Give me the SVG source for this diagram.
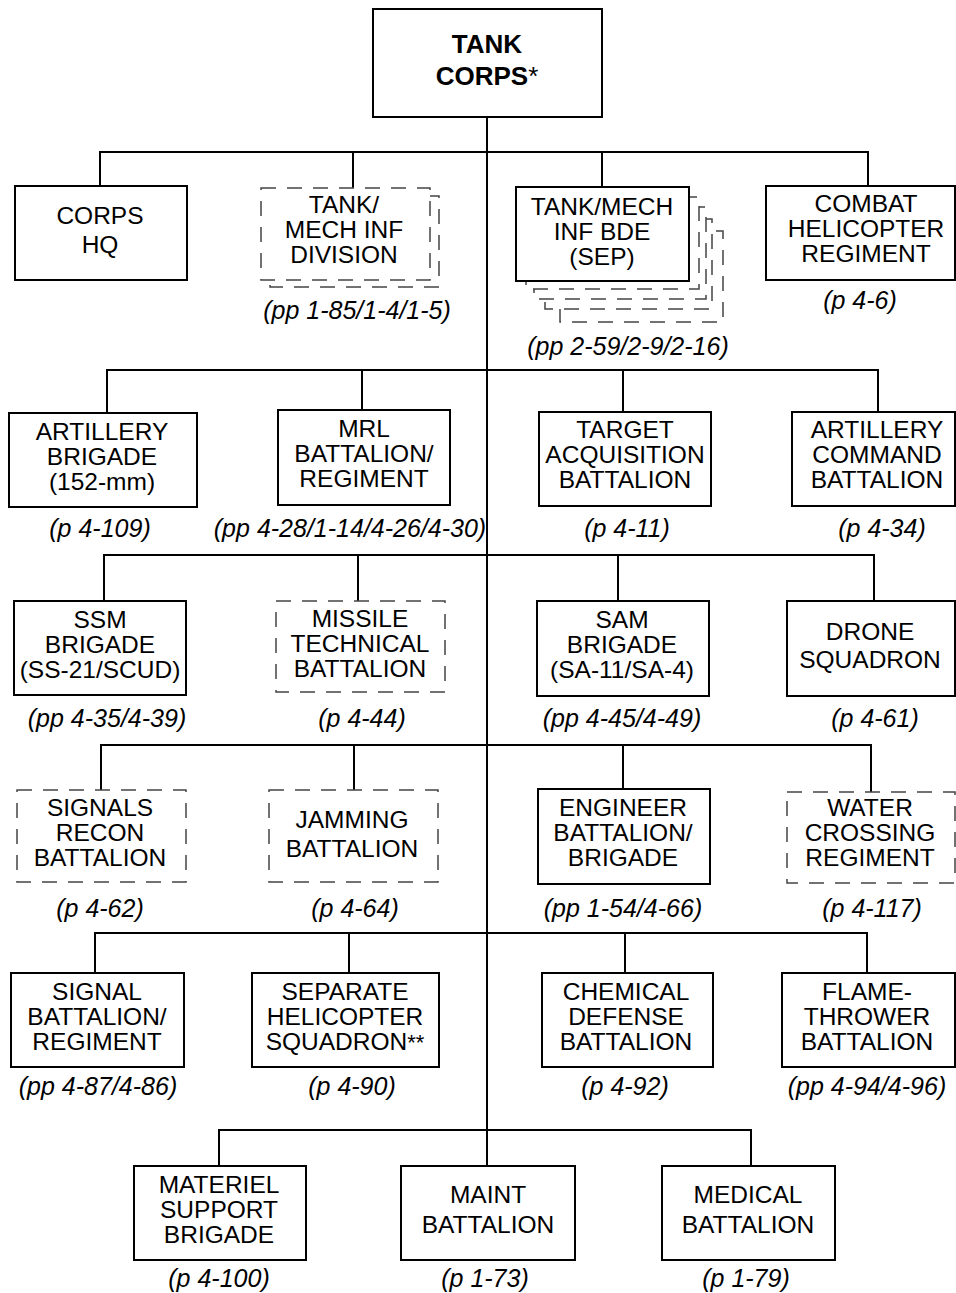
<svg xmlns="http://www.w3.org/2000/svg" width="956" height="1293" viewBox="0 0 956 1293">
<style>
.box{fill:#fff;stroke:#000;stroke-width:2}
.dash{fill:#fff;stroke:#444;stroke-width:1.5;stroke-dasharray:15 11}
.ln{fill:none;stroke:#000;stroke-width:2}
text{font-family:"Liberation Sans",Arial,sans-serif;font-size:24.5px;fill:#000;text-anchor:middle}
.lbl{font-style:italic;font-size:25px}
.ttl{font-weight:bold;font-size:26px}
.ast{font-weight:normal;font-size:26px}
.ast2{font-size:22px}
</style>
<rect width="956" height="1293" fill="#fff"/>
<g id="connectors">
<path class="ln" d="M487 117V1166"/>
<path class="ln" d="M100 186V152H868V186M353 152V188M602 152V187"/>
<path class="ln" d="M107 413V370H878V412M362 370V410M623 370V412"/>
<path class="ln" d="M104 601V555H874V601M358 555V601M618 555V601"/>
<path class="ln" d="M101 790V745H871V792M354 745V790M623 745V789"/>
<path class="ln" d="M95 973V933H867V973M349 933V973M625 933V973"/>
<path class="ln" d="M219 1166V1130H751V1166"/>
</g>
<g id="tank-corps">
<rect class="box" x="373" y="9" width="229" height="108"/>
<text class="ttl" x="487" y="53">TANK</text>
<text class="ttl" x="487" y="85">CORPS<tspan class="ast">*</tspan></text>
</g>
<g id="corps-hq">
<rect class="box" x="15" y="186" width="172" height="94"/>
<text x="100" y="224">CORPS</text>
<text x="100" y="253">HQ</text>
</g>
<g id="tank-mech-div">
<rect class="dash" x="270" y="196" width="169" height="91"/>
<rect class="dash" x="261" y="188" width="169" height="92"/>
<text x="344" y="213">TANK/</text>
<text x="344" y="238">MECH INF</text>
<text x="344" y="263">DIVISION</text>
<text class="lbl" x="357" y="319">(pp 1-85/1-4/1-5)</text>
</g>
<g id="tank-mech-bde">
<rect class="dash" x="560" y="231" width="163" height="91"/>
<rect class="dash" x="545" y="219" width="167" height="90"/>
<rect class="dash" x="534" y="207" width="172" height="92"/>
<rect class="dash" x="526" y="197" width="173" height="92"/>
<rect class="box" x="516" y="187" width="173" height="94"/>
<text x="602" y="215">TANK/MECH</text>
<text x="602" y="240">INF BDE</text>
<text x="602" y="265">(SEP)</text>
<text class="lbl" x="628" y="355">(pp 2-59/2-9/2-16)</text>
</g>
<g id="combat-heli">
<rect class="box" x="766" y="186" width="189" height="94"/>
<text x="866" y="212">COMBAT</text>
<text x="866" y="237">HELICOPTER</text>
<text x="866" y="262">REGIMENT</text>
<text class="lbl" x="860" y="309">(p 4-6)</text>
</g>
<g id="arty-bde">
<rect class="box" x="9" y="413" width="188" height="94"/>
<text x="102" y="440">ARTILLERY</text>
<text x="102" y="465">BRIGADE</text>
<text x="102" y="490">(152-mm)</text>
<text class="lbl" x="100" y="537">(p 4-109)</text>
</g>
<g id="mrl">
<rect class="box" x="278" y="410" width="172" height="95"/>
<text x="364" y="437">MRL</text>
<text x="364" y="462">BATTALION/</text>
<text x="364" y="487">REGIMENT</text>
<text class="lbl" x="350" y="537">(pp 4-28/1-14/4-26/4-30)</text>
</g>
<g id="target-acq">
<rect class="box" x="539" y="412" width="172" height="94"/>
<text x="625" y="438">TARGET</text>
<text x="625" y="463">ACQUISITION</text>
<text x="625" y="488">BATTALION</text>
<text class="lbl" x="627" y="537">(p 4-11)</text>
</g>
<g id="arty-cmd">
<rect class="box" x="792" y="412" width="163" height="94"/>
<text x="877" y="438">ARTILLERY</text>
<text x="877" y="463">COMMAND</text>
<text x="877" y="488">BATTALION</text>
<text class="lbl" x="882" y="537">(p 4-34)</text>
</g>
<g id="ssm">
<rect class="box" x="14" y="601" width="172" height="94"/>
<text x="100" y="628">SSM</text>
<text x="100" y="653">BRIGADE</text>
<text x="100" y="678">(SS-21/SCUD)</text>
<text class="lbl" x="107" y="727">(pp 4-35/4-39)</text>
</g>
<g id="missile-tech">
<rect class="dash" x="276" y="601" width="169" height="91"/>
<text x="360" y="627">MISSILE</text>
<text x="360" y="652">TECHNICAL</text>
<text x="360" y="677">BATTALION</text>
<text class="lbl" x="362" y="727">(p 4-44)</text>
</g>
<g id="sam">
<rect class="box" x="537" y="601" width="172" height="95"/>
<text x="622" y="628">SAM</text>
<text x="622" y="653">BRIGADE</text>
<text x="622" y="678">(SA-11/SA-4)</text>
<text class="lbl" x="622" y="727">(pp 4-45/4-49)</text>
</g>
<g id="drone">
<rect class="box" x="787" y="601" width="168" height="95"/>
<text x="870" y="640">DRONE</text>
<text x="870" y="668">SQUADRON</text>
<text class="lbl" x="875" y="727">(p 4-61)</text>
</g>
<g id="signals-recon">
<rect class="dash" x="17" y="790" width="169" height="92"/>
<text x="100" y="816">SIGNALS</text>
<text x="100" y="841">RECON</text>
<text x="100" y="866">BATTALION</text>
<text class="lbl" x="100" y="917">(p 4-62)</text>
</g>
<g id="jamming">
<rect class="dash" x="269" y="790" width="169" height="92"/>
<text x="352" y="828">JAMMING</text>
<text x="352" y="857">BATTALION</text>
<text class="lbl" x="355" y="917">(p 4-64)</text>
</g>
<g id="engineer">
<rect class="box" x="538" y="789" width="172" height="95"/>
<text x="623" y="816">ENGINEER</text>
<text x="623" y="841">BATTALION/</text>
<text x="623" y="866">BRIGADE</text>
<text class="lbl" x="623" y="917">(pp 1-54/4-66)</text>
</g>
<g id="water-crossing">
<rect class="dash" x="787" y="792" width="168" height="91"/>
<text x="870" y="816">WATER</text>
<text x="870" y="841">CROSSING</text>
<text x="870" y="866">REGIMENT</text>
<text class="lbl" x="872" y="917">(p 4-117)</text>
</g>
<g id="signal-bn">
<rect class="box" x="11" y="973" width="173" height="94"/>
<text x="97" y="1000">SIGNAL</text>
<text x="97" y="1025">BATTALION/</text>
<text x="97" y="1050">REGIMENT</text>
<text class="lbl" x="98" y="1095">(pp 4-87/4-86)</text>
</g>
<g id="sep-heli">
<rect class="box" x="252" y="973" width="187" height="94"/>
<text x="345" y="1000">SEPARATE</text>
<text x="345" y="1025">HELICOPTER</text>
<text x="345" y="1050">SQUADRON<tspan class="ast2">**</tspan></text>
<text class="lbl" x="352" y="1095">(p 4-90)</text>
</g>
<g id="chem">
<rect class="box" x="542" y="973" width="171" height="94"/>
<text x="626" y="1000">CHEMICAL</text>
<text x="626" y="1025">DEFENSE</text>
<text x="626" y="1050">BATTALION</text>
<text class="lbl" x="625" y="1095">(p 4-92)</text>
</g>
<g id="flame">
<rect class="box" x="782" y="973" width="173" height="94"/>
<text x="867" y="1000">FLAME-</text>
<text x="867" y="1025">THROWER</text>
<text x="867" y="1050">BATTALION</text>
<text class="lbl" x="867" y="1095">(pp 4-94/4-96)</text>
</g>
<g id="materiel">
<rect class="box" x="134" y="1166" width="172" height="94"/>
<text x="219" y="1193">MATERIEL</text>
<text x="219" y="1218">SUPPORT</text>
<text x="219" y="1243">BRIGADE</text>
<text class="lbl" x="219" y="1287">(p 4-100)</text>
</g>
<g id="maint">
<rect class="box" x="401" y="1166" width="174" height="94"/>
<text x="488" y="1203">MAINT</text>
<text x="488" y="1233">BATTALION</text>
<text class="lbl" x="485" y="1287">(p 1-73)</text>
</g>
<g id="medical">
<rect class="box" x="662" y="1166" width="173" height="94"/>
<text x="748" y="1203">MEDICAL</text>
<text x="748" y="1233">BATTALION</text>
<text class="lbl" x="746" y="1287">(p 1-79)</text>
</g>
</svg>
